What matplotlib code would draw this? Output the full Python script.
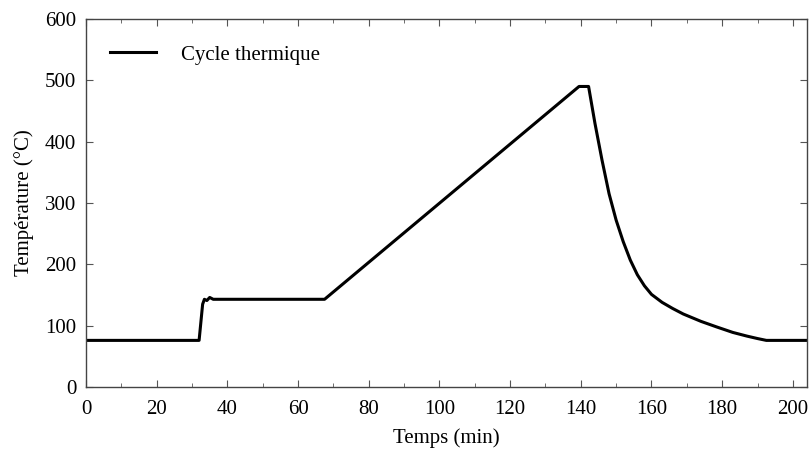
import matplotlib
matplotlib.use("Agg")
import matplotlib.pyplot as plt
from matplotlib.ticker import MultipleLocator

plt.rcParams['font.family'] = ['Liberation Serif', 'DejaVu Serif']

temps_min = [0, 32.0, 33.0, 33.5, 34.2, 35.0, 36.0, 67.5, 139.5, 142.2,
             144.0, 146.0, 148.0, 150.0, 152.0, 154.0, 156.0, 158.0, 160.0,
             163.0, 166.0, 169.0, 174.0, 178.4, 183.0, 187.0, 190.0, 192.5, 204]
temperature = [76, 76, 135, 143, 141, 146, 143, 143, 490, 490,
               430, 370, 315, 272, 237, 207, 183, 165, 151,
               138, 128, 119, 107, 98, 89, 83, 79, 76, 76]

fig = plt.figure(figsize=(8.09, 4.5), dpi=100)
ax = fig.add_axes([86/809, 1-387/450, (807-86)/809, (387-19)/450])

ax.plot(temps_min, temperature, color='black', lw=2.2, label='Cycle thermique')

ax.set_xlim(0, 204)
ax.set_ylim(0, 600)
ax.xaxis.set_major_locator(MultipleLocator(20))
ax.xaxis.set_minor_locator(MultipleLocator(10))
ax.yaxis.set_major_locator(MultipleLocator(100))
ax.tick_params(which='both', direction='in', top=True, right=True,
               labelsize=15, color='#555555')
ax.tick_params(axis='y', pad=7)
ax.tick_params(axis='x', pad=9)
ax.tick_params(which='major', length=5)
ax.tick_params(which='minor', length=3)
for s in ax.spines.values():
    s.set_color('#444444')
    s.set_linewidth(1.0)

ax.set_xlabel('Temps (min)', fontsize=15, labelpad=7)
ax.set_ylabel('Température (°C)', fontsize=15, labelpad=8)

ax.legend(loc='upper left', frameon=False, fontsize=15, handlelength=2.2,
          handletextpad=1.2, bbox_to_anchor=(0.007, 0.98))

fig.savefig('out.png', dpi=100)
